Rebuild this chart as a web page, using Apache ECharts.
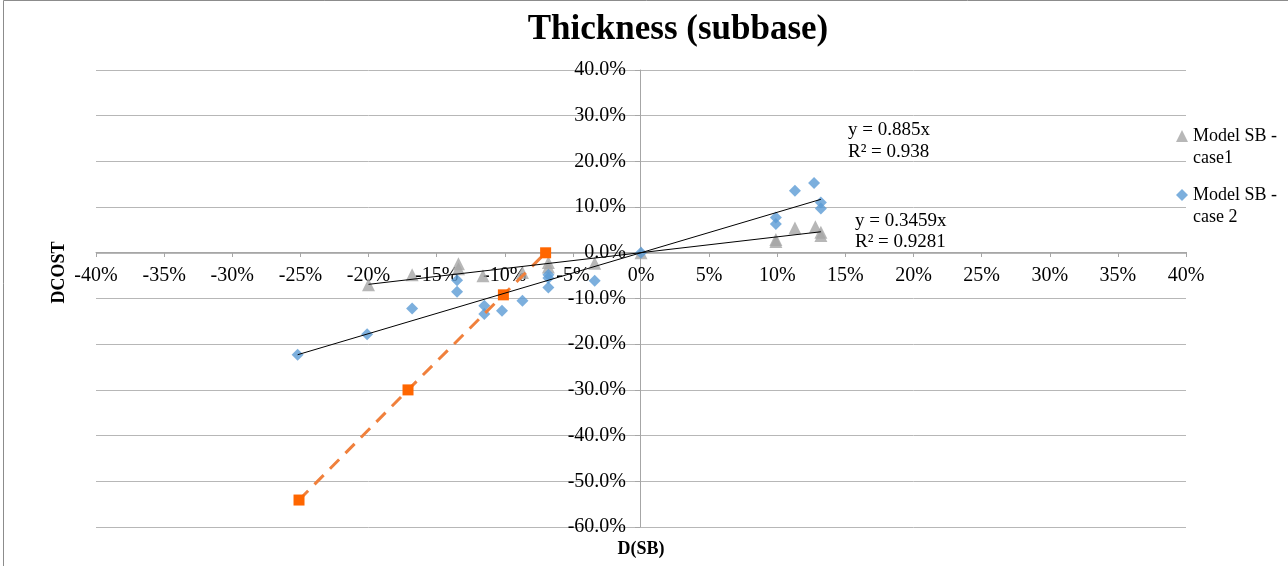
<!DOCTYPE html>
<html>
<head>
<meta charset="utf-8">
<script src="https://cdn.jsdelivr.net/npm/echarts@6/dist/echarts.min.js"></script>
<style>html,body{margin:0;padding:0;background:#fff}#c{width:1288px;height:566px}</style>
</head>
<body>
<div id="c"></div>
<script>
// ---- data (percent units) ----
const xTickLabels = ['-40%','-35%','-30%','-25%','-20%','-15%','-10%','-5%','0%','5%','10%','15%','20%','25%','30%','35%','40%'];
const case1X = [-20.0, -16.8, -13.4, -13.4, -11.6, -8.7, -6.8, -6.8, -3.4, 0.0, 9.9, 9.9, 11.3, 12.8, 13.2, 13.2];
const case1Y = [-7.0, -4.8, -2.4, -3.5, -5.0, -4.3, -2.1, -3.1, -2.3, 0.0, 2.5, 2.9, 5.4, 5.7, 4.5, 3.8];
const case2X = [-25.2, -20.1, -16.8, -13.5, -13.5, -11.5, -11.5, -10.2, -8.7, -6.8, -6.8, -6.8, -3.4, 0.0, 9.9, 9.9, 11.3, 12.7, 13.2, 13.2];
const case2Y = [-22.3, -17.8, -12.2, -6.0, -8.5, -11.6, -13.4, -12.7, -10.5, -4.8, -5.5, -7.6, -6.1, 0.0, 7.7, 6.3, 13.6, 15.3, 11.0, 9.7];
const series3X = [-25.1, -17.1, -10.1, -7.0];
const series3Y = [-54.1, -30.0, -9.2, 0.0];
const trend1X = [-20.0, 13.2];
const trend1Y = [-6.9, 4.6];
const trend2X = [-25.2, 13.2];
const trend2Y = [-22.3, 11.7];
const eq1 = 'y = 0.885x\nR² = 0.938';
const eq2 = 'y = 0.3459x\nR² = 0.9281';
const seriesNames = ['Model SB - case1', 'Model SB - case 2', 'Series3'];

const zip = (xs, ys) => xs.map((x, i) => [x, ys[i]]);
const FONT = 'Liberation Serif';

const chart = echarts.init(document.getElementById('c'), null, {renderer: 'canvas'});
chart.setOption({
  backgroundColor: '#fff',
  animation: false,
  title: {
    text: 'Thickness (subbase)',
    left: 678, top: 12, textAlign: 'center', padding: 0,
    textStyle: {fontFamily: FONT, fontSize: 35, fontWeight: 'bold', color: '#000'}
  },
  grid: {left: 96, right: 102, top: 70, bottom: 39, containLabel: false, outerBoundsMode: 'none'},
  legend: {
    orient: 'vertical', left: 1176, top: 103, itemGap: -7, padding: 0,
    itemWidth: 12, itemHeight: 12,
    data: [{name: seriesNames[0], icon: 'triangle'}, {name: seriesNames[1], icon: 'diamond'}],
    formatter: n => ' \n' + n.replace(' - ', ' -\n'),
    textStyle: {fontFamily: FONT, fontSize: 18, color: '#000', lineHeight: 22}
  },
  xAxis: {
    type: 'value', min: -40, max: 40, interval: 5, offset: -275,
    name: 'D(SB)', nameLocation: 'middle', nameGap: 288,
    nameTextStyle: {fontFamily: FONT, fontSize: 18, fontWeight: 'bold', color: '#000'},
    axisLine: {onZero: false, lineStyle: {color: '#A6A6A6', width: 1}},
    axisTick: {show: true, length: 5, lineStyle: {color: '#A6A6A6'}},
    axisLabel: {fontFamily: FONT, fontSize: 20, color: '#000', margin: 14,
      formatter: v => xTickLabels[Math.round((v + 40) / 5)]},
    splitLine: {show: false}
  },
  yAxis: {
    type: 'value', min: -60, max: 40, interval: 10, offset: -544,
    name: 'DCOST', nameLocation: 'middle', nameGap: 572, nameRotate: 90,
    nameTextStyle: {fontFamily: FONT, fontSize: 18, fontWeight: 'bold', color: '#000', padding: [0, 0, 0, 52]},
    axisLine: {onZero: false, lineStyle: {color: '#A6A6A6', width: 1}},
    axisTick: {show: true, length: 5, lineStyle: {color: '#A6A6A6'}},
    axisLabel: {fontFamily: FONT, fontSize: 20, color: '#000', margin: 14,
      formatter: v => v.toFixed(1) + '%'},
    splitLine: {show: true, lineStyle: {color: '#B7B7B7', width: 1}}
  },
  graphic: [
    {type: 'rect', silent: true, z: -10, shape: {x: 3.5, y: 0.5, width: 1400, height: 700},
      style: {fill: null, stroke: '#8C8C8C', lineWidth: 1}},
    {type: 'text', left: 848, top: 119, silent: true,
      style: {text: eq1, fontFamily: FONT, fontSize: 19, lineHeight: 22, fill: '#000'}},
    {type: 'text', left: 855, top: 211, silent: true,
      style: {text: eq2, fontFamily: FONT, fontSize: 19, lineHeight: 21, fill: '#000'}}
  ],
  series: [
    {name: seriesNames[0], type: 'scatter', symbol: 'triangle', symbolSize: 13,
      itemStyle: {color: '#A5A5A5'}, data: zip(case1X, case1Y), z: 3},
    {name: seriesNames[1], type: 'scatter', symbol: 'diamond', symbolSize: 12,
      itemStyle: {color: '#5B9BD5'}, data: zip(case2X, case2Y), z: 4},
    {name: seriesNames[2], type: 'line', symbol: 'rect', symbolSize: 11,
      itemStyle: {color: '#FF6600'}, lineStyle: {color: '#F0803C', width: 3, type: [13, 9]},
      data: zip(series3X, series3Y), z: 5},
    {name: 'trend1', type: 'line', symbol: 'none', silent: true,
      lineStyle: {color: '#000', width: 1}, data: zip(trend1X, trend1Y), z: 6},
    {name: 'trend2', type: 'line', symbol: 'none', silent: true,
      lineStyle: {color: '#000', width: 1}, data: zip(trend2X, trend2Y), z: 6}
  ]
});
</script>
</body>
</html>
